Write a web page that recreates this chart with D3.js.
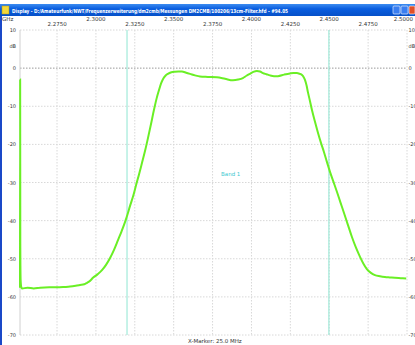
<!DOCTYPE html>
<html>
<head>
<meta charset="utf-8">
<script src="https://cdn.jsdelivr.net/npm/d3@7"></script>
<style>
  body { margin: 0; background: #ffffff; }
  svg { display: block; }
  text { font-family: "DejaVu Sans", sans-serif; }
</style>
</head>
<body>
<svg id="chart" width="415" height="345"></svg>
<script>
// sweep trace (GHz / dB)
var freqGHz = [2.2512, 2.2513, 2.2514, 2.2516, 2.2520, 2.2525, 2.2560, 2.2600, 2.2641, 2.2700, 2.2750, 2.2800,
  2.2834, 2.2870, 2.2898, 2.2925, 2.2943, 2.2962, 2.2981, 2.3010, 2.3039, 2.3065, 2.3091, 2.3117, 2.3142,
  2.3165, 2.3187, 2.3203, 2.3219, 2.3240, 2.3258, 2.3277, 2.3296, 2.3316, 2.3335, 2.3354, 2.3373, 2.3390,
  2.3406, 2.3419, 2.3431, 2.3447, 2.3463, 2.3485, 2.3508, 2.3530, 2.3553, 2.3580, 2.3605, 2.3637, 2.3669,
  2.3720, 2.3778, 2.3830, 2.3881, 2.3915, 2.3945, 2.3968, 2.3990, 2.4012, 2.4035, 2.4055, 2.4074, 2.4097,
  2.4119, 2.4145, 2.4170, 2.4210, 2.4248, 2.4270, 2.4292, 2.4310, 2.4325, 2.4335, 2.4344, 2.4354, 2.4363,
  2.4376, 2.4389, 2.4408, 2.4428, 2.4447, 2.4466, 2.4485, 2.4505, 2.4528, 2.4550, 2.4572, 2.4595, 2.4620,
  2.4646, 2.4672, 2.4698, 2.4720, 2.4742, 2.4768, 2.4794, 2.4826, 2.4858, 2.4890, 2.4922, 2.4960, 2.4995];
var levelDb = [-57.6, -3.0, -47.0, -55.5, -57.4, -57.8, -57.6, -57.8, -57.6, -57.5, -57.5, -57.4,
  -57.3, -57.1, -56.9, -56.7, -56.3, -55.8, -55.0, -54.1, -53.0, -51.6, -49.8, -47.6, -45.1,
  -42.8, -40.4, -38.4, -36.2, -33.5, -30.7, -27.9, -24.9, -21.7, -18.3, -14.7, -11.0, -8.0,
  -5.7, -4.0, -2.9, -2.0, -1.5, -1.1, -0.95, -0.9, -0.9, -1.2, -1.5, -1.9, -2.2,
  -2.3, -2.4, -2.8, -3.2, -3.0, -2.6, -2.0, -1.5, -1.0, -0.75, -0.9, -1.3, -1.6,
  -1.9, -2.1, -2.1, -1.7, -1.4, -1.3, -1.3, -1.5, -1.8, -2.3, -3.1, -4.5, -6.3,
  -8.6, -11.0, -14.0, -17.0, -19.6, -22.0, -24.6, -27.2, -29.9, -32.5, -35.2, -38.0, -41.1,
  -44.3, -47.1, -49.5, -51.3, -52.7, -53.7, -54.3, -54.6, -54.8, -54.9, -55.0, -55.1, -55.2];

var dbTicks = [10, 0, -10, -20, -30, -40, -50, -60, -70];
var freqTicks = [2.275, 2.300, 2.325, 2.350, 2.375, 2.400, 2.425, 2.450, 2.475, 2.500];
var markerGHz = [2.3200, 2.4498];
var titleText = "Display - D:/Amateurfunk/NWT/Frequenzerweiterung/dm2cmb/Messungen DM2CMB/100206/13cm-Filter.hfd - #94.05";

var svg = d3.select("#chart");
var x = d3.scaleLinear().domain([2.2512, 2.5]).range([20, 407]);
var y = d3.scaleLinear().domain([-70, 10]).range([335, 30]);

// window title bar
var grad = svg.append("defs").append("linearGradient").attr("id", "tb").attr("x1", 0).attr("y1", 0).attr("x2", 0).attr("y2", 1);
grad.append("stop").attr("offset", "0%").attr("stop-color", "#3d8cf0");
grad.append("stop").attr("offset", "40%").attr("stop-color", "#0a5ee0");
grad.append("stop").attr("offset", "100%").attr("stop-color", "#0650c8");
svg.append("rect").attr("x", 0).attr("y", 4).attr("width", 415).attr("height", 12).attr("fill", "url(#tb)");
svg.append("rect").attr("x", 2).attr("y", 6).attr("width", 7).attr("height", 8).attr("fill", "#f3d83a").attr("stroke", "#b89a10").attr("stroke-width", 0.5);
svg.append("text").attr("x", 12).attr("y", 12.5).attr("fill", "#ffffff").attr("font-size", 5.5).attr("font-weight", "bold")
  .attr("textLength", 276).attr("lengthAdjust", "spacingAndGlyphs").text(titleText);
[393, 401].forEach(function (bx) {
  svg.append("rect").attr("x", bx).attr("y", 6).attr("width", 7).attr("height", 8).attr("rx", 1).attr("fill", "#3a7ef0").attr("stroke", "#ffffff").attr("stroke-width", 0.6);
});
svg.append("rect").attr("x", 409).attr("y", 6).attr("width", 6).attr("height", 8).attr("rx", 1).attr("fill", "#e0502a").attr("stroke", "#ffffff").attr("stroke-width", 0.6);
// left window frame
svg.append("rect").attr("x", 0).attr("y", 16).attr("width", 2).attr("height", 329).attr("fill", "#1a48c8");

// grid
var grid = svg.append("g");
grid.selectAll(".hg").data(dbTicks).enter().append("line")
  .attr("x1", 20).attr("x2", 407)
  .attr("y1", function (d) { return y(d); }).attr("y2", function (d) { return y(d); })
  .attr("stroke", function (d) { return d === 0 ? "#9a9a9a" : "#d8d8d8"; })
  .attr("stroke-width", 1)
  .attr("stroke-dasharray", "1.5,1.5");
grid.selectAll(".vg").data(freqTicks).enter().append("line")
  .attr("y1", 30).attr("y2", 335)
  .attr("x1", function (d) { return x(d); }).attr("x2", function (d) { return x(d); })
  .attr("stroke", "#d8d8d8").attr("stroke-width", 1).attr("stroke-dasharray", "1.5,1.5");
svg.append("line").attr("x1", 20).attr("x2", 20).attr("y1", 30).attr("y2", 335).attr("stroke", "#d0d0d0");

// markers
svg.selectAll(".mk").data(markerGHz).enter().append("line")
  .attr("y1", 30).attr("y2", 335)
  .attr("x1", function (d) { return x(d); }).attr("x2", function (d) { return x(d); })
  .attr("stroke", "#8fe6d2").attr("stroke-width", 1);

// axis labels
svg.append("text").attr("x", 2).attr("y", 21).attr("font-size", 5.5).attr("fill", "#333").text("GHz");
svg.selectAll(".fl").data(freqTicks).enter().append("text")
  .attr("x", function (d, i) { return i === freqTicks.length - 1 ? 413 : x(d); })
  .attr("y", function (d, i) { return i % 2 === 0 ? 26 : 21; })
  .attr("text-anchor", function (d, i) { return i === freqTicks.length - 1 ? "end" : "middle"; })
  .attr("font-size", 5.5).attr("fill", "#333")
  .text(function (d) { return d3.format(".4f")(d); });
[[3, "end", 16], [409, "start", 408.5]].forEach(function (s) {
  svg.selectAll(null).data(dbTicks).enter().append("text")
    .attr("x", s[2]).attr("y", function (d) { return y(d) + 2; })
    .attr("text-anchor", s[1]).attr("font-size", 5).attr("fill", "#333")
    .text(function (d) { return d; });
  svg.append("text").attr("x", s[2]).attr("y", 48).attr("text-anchor", s[1]).attr("font-size", 5).attr("fill", "#333").text("dB");
});

// trace
var pts = freqGHz.map(function (f, i) { return [f, levelDb[i]]; });
var line = d3.line().x(function (d) { return x(d[0]); }).y(function (d) { return y(d[1]); }).curve(d3.curveMonotoneX);
svg.append("path").attr("d", line(pts)).attr("fill", "none").attr("stroke", "#6aef25").attr("stroke-width", 2);

svg.append("text").attr("x", 221).attr("y", 176).attr("font-size", 5.5).attr("fill", "#3cc8d0").text("Band 1");
svg.append("text").attr("x", 188).attr("y", 343).attr("font-size", 5.5).attr("fill", "#333").text("X-Marker: 25.0 MHz");
</script>
</body>
</html>
